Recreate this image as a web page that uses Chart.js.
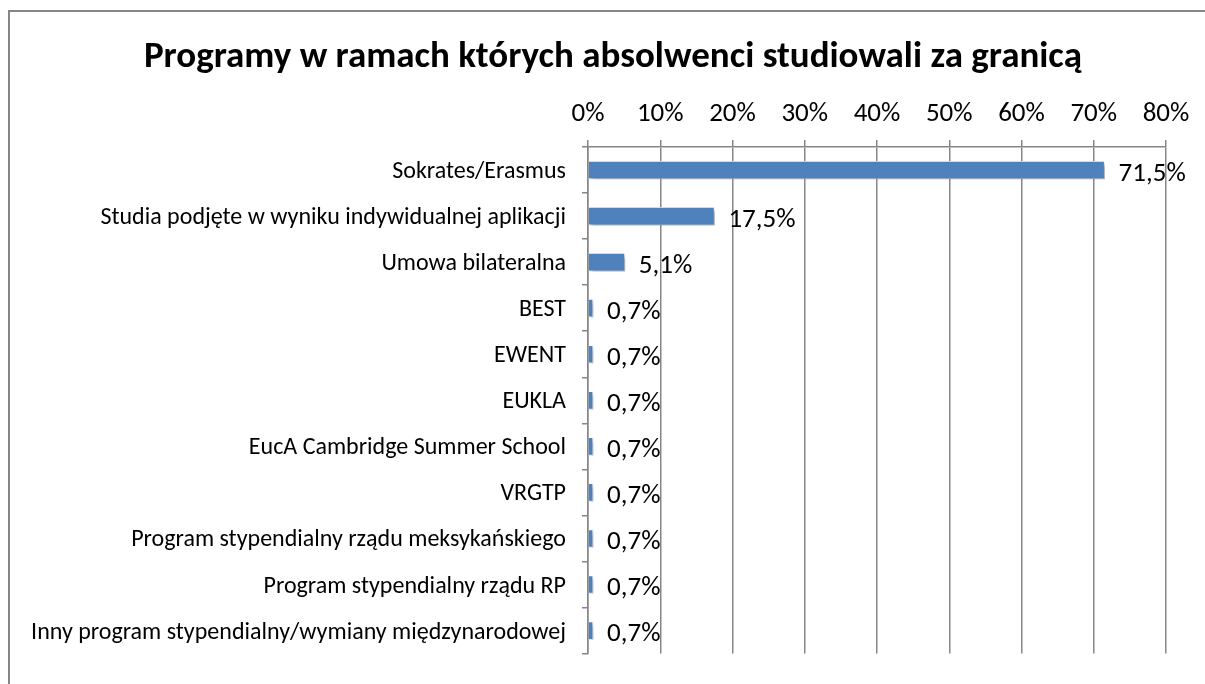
<!DOCTYPE html>
<html>
<head>
<meta charset="utf-8">
<script src="https://cdn.jsdelivr.net/npm/chart.js@4/dist/chart.umd.min.js"></script>
<style>
  html, body { margin: 0; padding: 0; background: #ffffff; }
  #wrap { width: 1205px; height: 684px; position: relative; }
</style>
</head>
<body>
<div id="wrap"><canvas id="c" width="1205" height="684"></canvas></div>
<script>
const chartTitle = 'Programy w ramach których absolwenci studiowali za granicą';
const categories = [
  'Sokrates/Erasmus',
  'Studia podjęte w wyniku indywidualnej aplikacji',
  'Umowa bilateralna',
  'BEST',
  'EWENT',
  'EUKLA',
  'EucA Cambridge Summer School',
  'VRGTP',
  'Program stypendialny rządu meksykańskiego',
  'Program stypendialny rządu RP',
  'Inny program stypendialny/wymiany międzynarodowej'
];
const values = [71.5, 17.5, 5.1, 0.7, 0.7, 0.7, 0.7, 0.7, 0.7, 0.7, 0.7];
const xTickValues = [0, 10, 20, 30, 40, 50, 60, 70, 80];

const FONT = "Carlito, Calibri, Lato, 'Liberation Sans', sans-serif";
const GRID = '#868686';

const framePlugin = {
  id: 'frame',
  beforeDraw(chart) {
    const ctx = chart.ctx;
    ctx.save();
    ctx.fillStyle = '#ffffff';
    ctx.fillRect(0, 0, chart.width, chart.height);
    ctx.strokeStyle = '#868686';
    ctx.lineWidth = 2;
    ctx.beginPath();
    ctx.moveTo(9, chart.height + 5);
    ctx.lineTo(9, 11);
    ctx.lineTo(chart.width + 5, 11);
    ctx.stroke();
    // chart title
    ctx.font = 'bold 37px ' + FONT;
    ctx.fillStyle = '#000000';
    ctx.textAlign = 'center';
    ctx.textBaseline = 'middle';
    ctx.fillText(chartTitle, 613, 58);
    ctx.restore();
  }
};

const shadowPlugin = {
  id: 'barShadow',
  beforeDatasetDraw(chart) {
    const ctx = chart.ctx;
    ctx.save();
    ctx.shadowColor = 'rgba(0,0,0,0.35)';
    ctx.shadowOffsetX = 3;
    ctx.shadowOffsetY = 3;
    ctx.shadowBlur = 4;
  },
  afterDatasetDraw(chart) {
    chart.ctx.restore();
  }
};

const labelPlugin = {
  id: 'valueLabels',
  afterDatasetsDraw(chart) {
    const ctx = chart.ctx;
    const meta = chart.getDatasetMeta(0);
    ctx.save();
    ctx.font = '27px ' + FONT;
    ctx.fillStyle = '#000000';
    ctx.textAlign = 'left';
    ctx.textBaseline = 'middle';
    meta.data.forEach((bar, i) => {
      const txt = values[i].toFixed(1).replace('.', ',') + '%';
      ctx.fillText(txt, bar.x + 14, bar.y + 4);
    });
    ctx.restore();
  }
};

new Chart(document.getElementById('c'), {
  type: 'bar',
  data: {
    labels: categories,
    datasets: [{
      data: values,
      backgroundColor: '#4F81BD',
      borderColor: 'rgba(255,255,255,0.85)',
      borderWidth: 1,
      barThickness: 18
    }]
  },
  options: {
    indexAxis: 'y',
    responsive: false,
    animation: false,
    devicePixelRatio: 1,
    layout: { padding: { left: 0, right: 39, top: 0, bottom: 22 } },
    plugins: {
      legend: { display: false },
      tooltip: { enabled: false },
      title: { display: false }
    },
    scales: {
      x: {
        position: 'top',
        min: 0,
        max: 80,
        afterBuildTicks(scale) {
          scale.ticks = xTickValues.map(v => ({ value: v }));
        },
        afterFit(scale) { scale.height = 147; },
        ticks: {
          color: '#000000',
          font: { family: FONT, size: 27 },
          padding: 10,
          callback: v => v + '%'
        },
        grid: {
          color: GRID,
          lineWidth: 1.5,
          tickLength: 7,
          drawOnChartArea: true
        },
        border: { color: GRID, width: 1.5 }
      },
      y: {
        afterFit(scale) { scale.width = 588; },
        ticks: {
          color: '#000000',
          font: { family: FONT, size: 24 },
          padding: 16,
          labelOffset: 2
        },
        grid: {
          color: GRID,
          lineWidth: 1.5,
          tickLength: 6,
          offset: true,
          drawOnChartArea: false
        },
        border: { color: GRID, width: 1.5 }
      }
    }
  },
  plugins: [framePlugin, shadowPlugin, labelPlugin]
});
</script>
</body>
</html>
